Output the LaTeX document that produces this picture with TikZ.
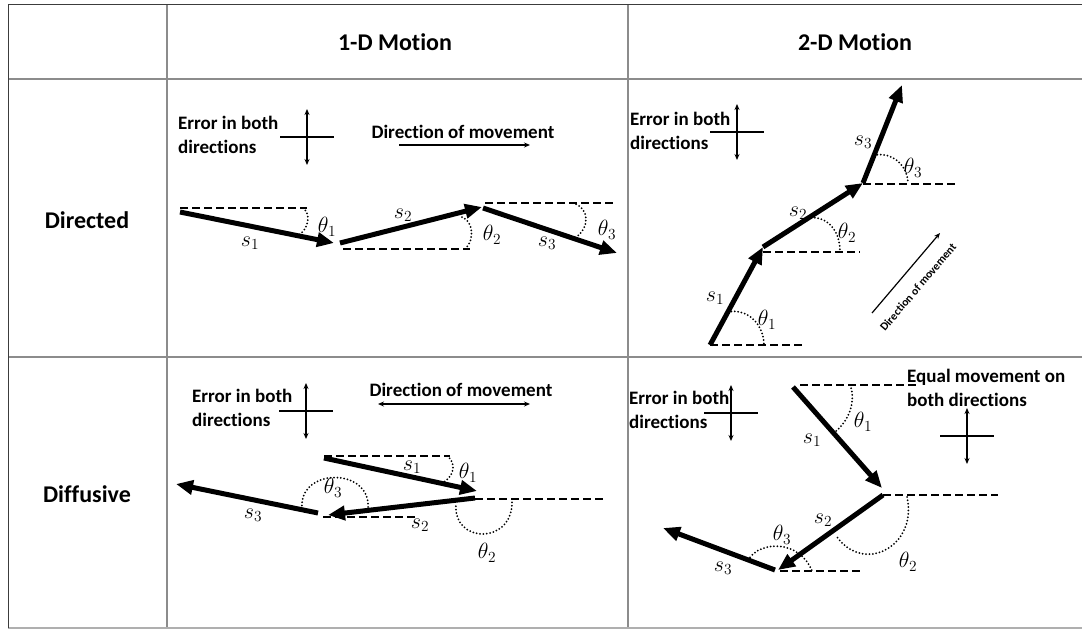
\documentclass[tikz,border=0pt]{standalone}
\usepackage{fix-cm}
\usepackage{fontspec}
\setmainfont{Carlito}[Ligatures=NoCommon]
\usepackage{tikz}
\usetikzlibrary{arrows.meta}
\definecolor{framegrey}{RGB}{60,60,60}
\definecolor{gridgrey}{RGB}{140,140,140}
\definecolor{lightgrid}{RGB}{175,175,175}
\tikzset{
  headtext/.style={font=\fontsize{24}{28}\selectfont\bfseries},
  rowtext/.style={font=\fontsize{24}{28}\selectfont\bfseries},
  notetext/.style={font=\fontsize{19}{24}\selectfont\bfseries,align=left,inner sep=0pt},
  mathlabel/.style={font=\fontsize{22}{26}\selectfont,inner sep=0pt},
  steparrow/.style={-{Triangle[length=17pt,width=14pt]},line width=5pt},
  refline/.style={line width=2.2pt,dash pattern=on 8pt off 4pt},
  anglearc/.style={line width=2pt,line cap=round,dash pattern=on 0pt off 3.4pt},
  thinarrow/.style={-{Stealth[length=6pt,width=5pt]},line width=1.2pt},
  crossarrow/.style={{Stealth[length=6pt,width=5pt]}-{Stealth[length=6pt,width=5pt]},line width=1.2pt}
}

\begin{document}
\begin{tikzpicture}[x=1pt,y=-1pt]
  \useasboundingbox (0,0) rectangle (1082,630);
  % table grid
  \draw[gridgrey,line width=1.6pt] (8,79) -- (1082,79) (8,357) -- (1082,357)
    (167,4.5) -- (167,628) (628,4.5) -- (628,628);
  \draw[lightgrid,line width=1.6pt] (8,628) -- (1082,628);
  \draw[framegrey,line width=1pt] (8,628) -- (8,4.5) -- (1082,4.5);

  \node[headtext] (hone) at (395,42) {1-D Motion};
  \node[headtext] (htwo) at (855,42) {2-D Motion};
  \node[rowtext] (rdir) at (87,220) {Directed};
  \node[rowtext] (rdif) at (87,494) {Diffusive};

  % notes
  \foreach \n/\x/\y in {a/178/135, b/192/408, c/630/131, d/629/410}
    \node[notetext,anchor=west] (err\n) at (\x,\y) {Error in both\\directions};
  \node[notetext] (dirone) at (463,132) {Direction of movement};
  \node[notetext] (dirtwo) at (461,390) {Direction of movement};
  \node[notetext,anchor=west] (equal) at (907,388) {Equal movement on\\both directions};
  \node[font=\fontsize{11.5}{13}\selectfont\bfseries,rotate=49.6,inner sep=0pt]
    (dirdiag) at (918,287) {Direction of movement};

  % error crosses
  \foreach \cx/\cy in {307/137, 306/411, 737/132, 731/413, 967/436}
    \draw[crossarrow] (\cx-27,\cy) -- (\cx+27,\cy) (\cx,\cy-28) -- (\cx,\cy+28);
  \draw[thinarrow] (399,145) -- (530,145);
  \draw[crossarrow] (378,404) -- (530,404);
  \draw[thinarrow] (872,313) -- (940,233);

  % reference lines
  \foreach \ax/\ay/\bx in {180/208/307, 343/249/470, 485/203/613,
                           710/345/803, 763/252/860, 863/184/958,
                           324/456/450, 475/499/605, 323/517/418,
                           800/385/917, 883/495/998, 780/571/860}
    \draw[refline] (\ax,\ay) -- (\bx,\ay);

  % steps
  \foreach \ax/\ay/\bx/\by in {180/212/334/243, 340/243/482/207, 483/208/617/253,
                               710/345/763/247, 763/247/863/183, 863/183/902/85,
                               324/458/477/491, 475/498/328/515, 318/513/176/484,
                               793/387/882/488, 883/495/778/570, 775/570/663/528}
    \draw[steparrow] (\ax,\ay) -- (\bx,\by);

  % angles
  \draw[anglearc] (303,208) .. controls (311,214) and (309,228) .. (299,235);
  \draw[anglearc] (462,217) .. controls (474,222) and (474,240) .. (466,248);
  \draw[anglearc] (573,203) .. controls (590,208) and (590,228) .. (575,238);
  \draw[anglearc] (728,312) .. controls (748,308) and (764,325) .. (764,345);
  \draw[anglearc] (808,218) .. controls (828,215) and (840,232) .. (840,251);
  \draw[anglearc] (874,155) .. controls (893,152) and (907,165) .. (908,183);
  \draw[anglearc] (447,456) .. controls (456,462) and (455,475) .. (444,482);
  \draw[anglearc] (512,499) .. controls (515,545) and (452,545) .. (456,503);
  \draw[anglearc] (302,509) .. controls (298,467) and (372,467) .. (368,509);
  \draw[anglearc] (850,385) .. controls (856,400) and (850,420) .. (835,432);
  \draw[anglearc] (907,497) .. controls (918,545) and (865,575) .. (837,537);
  \draw[anglearc] (748,560) .. controls (760,540) and (800,540) .. (812,571);

  % labels
  \foreach \n/\x/\y/\t in {a1/250/243/s_1, a2/403/215/s_2, a3/547/243/s_3,
                           b1/715/298/s_1, b2/798/213/s_2, b3/863/142/s_3,
                           c1/412/467/s_1, c2/420/525/s_2, c3/253/515/s_3,
                           d1/812/440/s_1, d2/823/520/s_2, d3/723/568/s_3}
    \node[mathlabel] (s\n) at (\x,\y) {$\t$};
  \foreach \n/\x/\y/\t in {a1/327/227/1, a2/492/235/2, a3/607/230/3,
                           b1/767/320/1, b2/847/233/2, b3/913/168/3,
                           c1/468/473/1, c2/487/553/2, c3/333/488/3,
                           d1/863/422/1, d2/908/562/2, d3/782/535/3}
    \node[mathlabel] (th\n) at (\x,\y) {$\theta_\t$};
\end{tikzpicture}
\end{document}
